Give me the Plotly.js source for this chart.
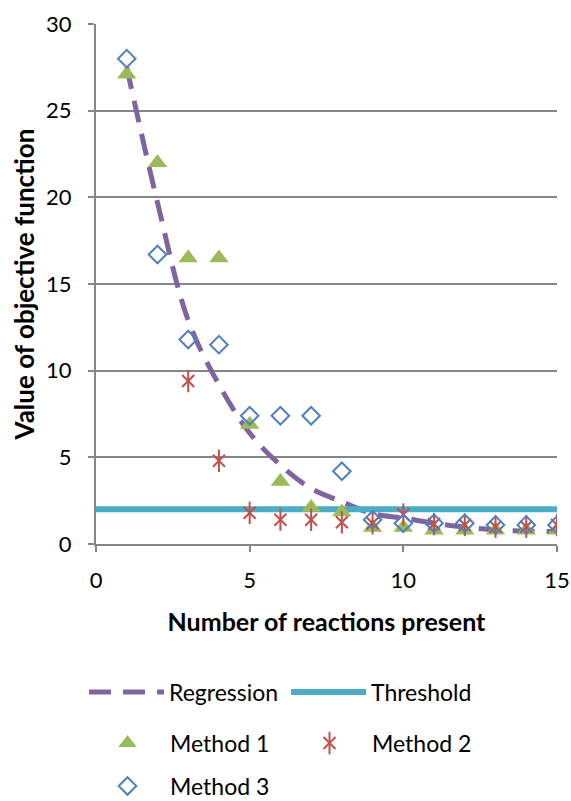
<!DOCTYPE html>
<html><head><meta charset="utf-8">
<script src="https://cdn.plot.ly/plotly-3.0.1.min.js"></script>
<style>body{margin:0;padding:0;background:#fff}#chart{width:571px;height:801px}</style>
</head><body><div id="chart"></div>
<script>
const reactions = [1,2,3,4,5,6,7,8,9,10,11,12,13,14,15];
const regression = [27.5,19.7,12.9,9.2,6.4,4.55,3.2,2.44,1.75,1.5,1.2,0.98,0.82,0.74,0.72];
const thresholdX = [0,15];
const thresholdY = [2,2];
const method1 = [27.1,22.0,16.5,16.5,6.9,3.6,2.1,1.85,0.95,0.95,0.8,0.8,0.8,0.8,0.8];
const method2X = [3,4,5,6,7,8,9,10,11,12,13,14,15];
const method2 = [9.4,4.8,1.8,1.4,1.4,1.25,1.2,1.7,1.15,1.1,1.0,1.0,1.1];
const method3 = [28.0,16.7,11.8,11.5,7.4,7.4,7.4,4.2,1.4,1.2,1.2,1.2,1.1,1.1,1.1];

const fnt = 'Lato, "Open Sans", sans-serif';
const red = '#c0504d';
const traces = [
  {x: reactions, y: regression, name: 'Regression', mode: 'lines', line: {color: '#8064a2', width: 5, dash: '22px,12px', shape: 'spline'}, legend: 'legend'},
  {x: thresholdX, y: thresholdY, name: 'Threshold', mode: 'lines', line: {color: '#4bacc6', width: 6}, legend: 'legend2'},
  {x: reactions, y: method1, name: 'Method 1', mode: 'markers', marker: {symbol: 'triangle-up', size: 17, color: '#9bbb59'}, legend: 'legend3'},
  {x: method2X, y: method2, name: 'Method 2', mode: 'markers', marker: {symbol: 'x-thin-open', size: 12, color: red, line: {color: red, width: 2}}, legend: 'legend4'},
  {x: method2X, y: method2, name: ' ', mode: 'markers', marker: {symbol: 'line-ns-open', size: 16, color: red, line: {color: red, width: 2}}, legend: 'legend6'},
  {x: reactions, y: method3, name: 'Method 3', mode: 'markers', marker: {symbol: 'diamond-open', size: 13.5, color: '#4f81bd', line: {color: '#4f81bd', width: 2}}, legend: 'legend5'}
];
function leg(px, py) {
  return {orientation: 'v', x: (px - 96) / 461, y: (544 - py) / 520, xanchor: 'left', yanchor: 'middle',
    font: {family: fnt, size: 23, color: '#000'}, itemwidth: 75, bgcolor: 'rgba(0,0,0,0)', borderwidth: 0};
}
const layout = {
  width: 571, height: 801,
  margin: {l: 96, r: 14, t: 24, b: 257, autoexpand: false},
  paper_bgcolor: '#fff', plot_bgcolor: '#fff',
  font: {family: fnt, size: 22, color: '#000'},
  showlegend: true,
  xaxis: {range: [0, 15], tickvals: [0,5,10,15], showgrid: false, zeroline: false, showline: true, linecolor: '#868686', linewidth: 2, ticks: 'outside', ticklen: 6, tickcolor: '#868686', tickwidth: 2, tickfont: {family: fnt, size: 22}, ticklabelstandoff: 10,
    title: {text: '<b>Number of reactions present</b>', font: {family: fnt, size: 25}, standoff: 21}},
  yaxis: {range: [0, 30], tickvals: [0,5,10,15,20,25,30], showgrid: true, gridcolor: '#868686', gridwidth: 2, zeroline: false, showline: true, linecolor: '#868686', linewidth: 2, ticks: 'outside', ticklen: 6, tickcolor: '#868686', tickwidth: 2, tickfont: {family: fnt, size: 22}, ticklabelstandoff: 12,
    title: {text: '<b>Value of objective function</b>', font: {family: fnt, size: 26}, standoff: 4}},
  legend: leg(84, 692),
  legend2: leg(286, 692),
  legend3: leg(85, 743),
  legend4: leg(287, 743),
  legend6: leg(287, 743),
  legend5: leg(85, 786)
};
Plotly.newPlot('chart', traces, layout, {displayModeBar: false, staticPlot: true});
</script></body></html>
